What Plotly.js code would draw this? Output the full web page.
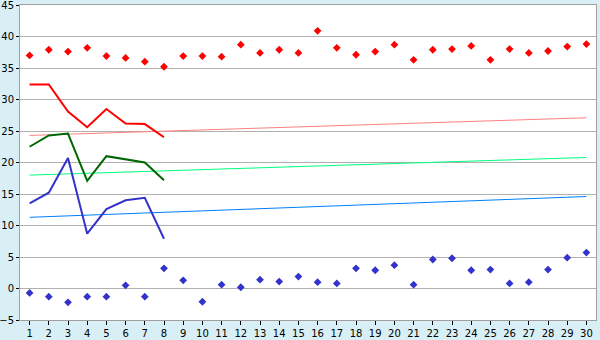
<!DOCTYPE html>
<html><head><meta charset="utf-8">
<script src="https://cdn.plot.ly/plotly-3.0.1.min.js"></script>
<style>html,body{margin:0;padding:0;background:#d9eff6;}#c{width:600px;height:340px;}</style>
</head><body><div id="c"></div>
<script>
const days = [];
for (let i = 1; i <= 30; i++) days.push(i);
const lineDays = [1,2,3,4,5,6,7,8];
const highPoints = [37.0,37.9,37.6,38.2,36.9,36.6,36.0,35.2,36.9,36.9,36.8,38.7,37.4,37.9,37.4,40.9,38.2,37.1,37.6,38.7,36.3,37.9,38.0,38.5,36.3,38.0,37.4,37.7,38.4,38.8];
const lowPoints = [-0.7,-1.3,-2.2,-1.3,-1.3,0.5,-1.3,3.2,1.3,-2.1,0.6,0.2,1.4,1.1,1.9,1.0,0.8,3.2,2.9,3.7,0.6,4.6,4.8,2.9,3.0,0.8,1.0,3.0,4.9,5.7];
const redLine = [32.4,32.4,28.1,25.6,28.5,26.2,26.1,24.0];
const greenLine = [22.5,24.3,24.6,17.1,21.0,20.5,20.0,17.2];
const blueLine = [13.5,15.2,20.7,8.7,12.6,14.0,14.4,7.9];
const trendDays = [1,30];
const redTrend = [24.3,27.1];
const greenTrend = [18.0,20.8];
const blueTrend = [11.3,14.6];
const yTicks = [-5,0,5,10,15,20,25,30,35,40,45];

const traces = [
  {x: trendDays, y: redTrend, mode:'lines', line:{color:'#ff8080', width:1}},
  {x: trendDays, y: greenTrend, mode:'lines', line:{color:'#00ff80', width:1}},
  {x: trendDays, y: blueTrend, mode:'lines', line:{color:'#0080ff', width:1}},
  {x: lineDays, y: redLine, mode:'lines', line:{color:'#ff0000', width:2}},
  {x: lineDays, y: greenLine, mode:'lines', line:{color:'#006600', width:2}},
  {x: lineDays, y: blueLine, mode:'lines', line:{color:'#3333cc', width:2}},
  {x: days, y: highPoints, mode:'markers', marker:{symbol:'diamond', size:6, color:'#ff0000'}},
  {x: days, y: lowPoints, mode:'markers', marker:{symbol:'diamond', size:6, color:'#3333cc'}}
];
const layout = {
  width:600, height:340,
  margin:{l:20, r:4, t:5, b:20},
  paper_bgcolor:'#d9eff6', plot_bgcolor:'#ffffff',
  showlegend:false,
  font:{family:'DejaVu Sans, Verdana, sans-serif', size:10, color:'#000'},
  xaxis:{range:[0.5,30.5], tickmode:'array', tickvals:days, ticktext:days.map(String),
         showgrid:false, zeroline:false, showline:true, linecolor:'#a0a0a0', mirror:true,
         ticks:'outside', ticklen:4, tickcolor:'#000', ticklabeloverflow:'allow', fixedrange:true},
  yaxis:{range:[-5,45], tickmode:'array', tickvals:yTicks, ticktext:yTicks.map(v=>v<0?'\u2212'+(-v):String(v)),
         showgrid:true, gridcolor:'#b0b0b0', zeroline:false, showline:true, linecolor:'#a0a0a0', mirror:true,
         ticks:'outside', ticklen:3, tickcolor:'#000', ticklabeloverflow:'allow', fixedrange:true}
};
Plotly.newPlot('c', traces, layout, {staticPlot:true, displayModeBar:false});
</script></body></html>
